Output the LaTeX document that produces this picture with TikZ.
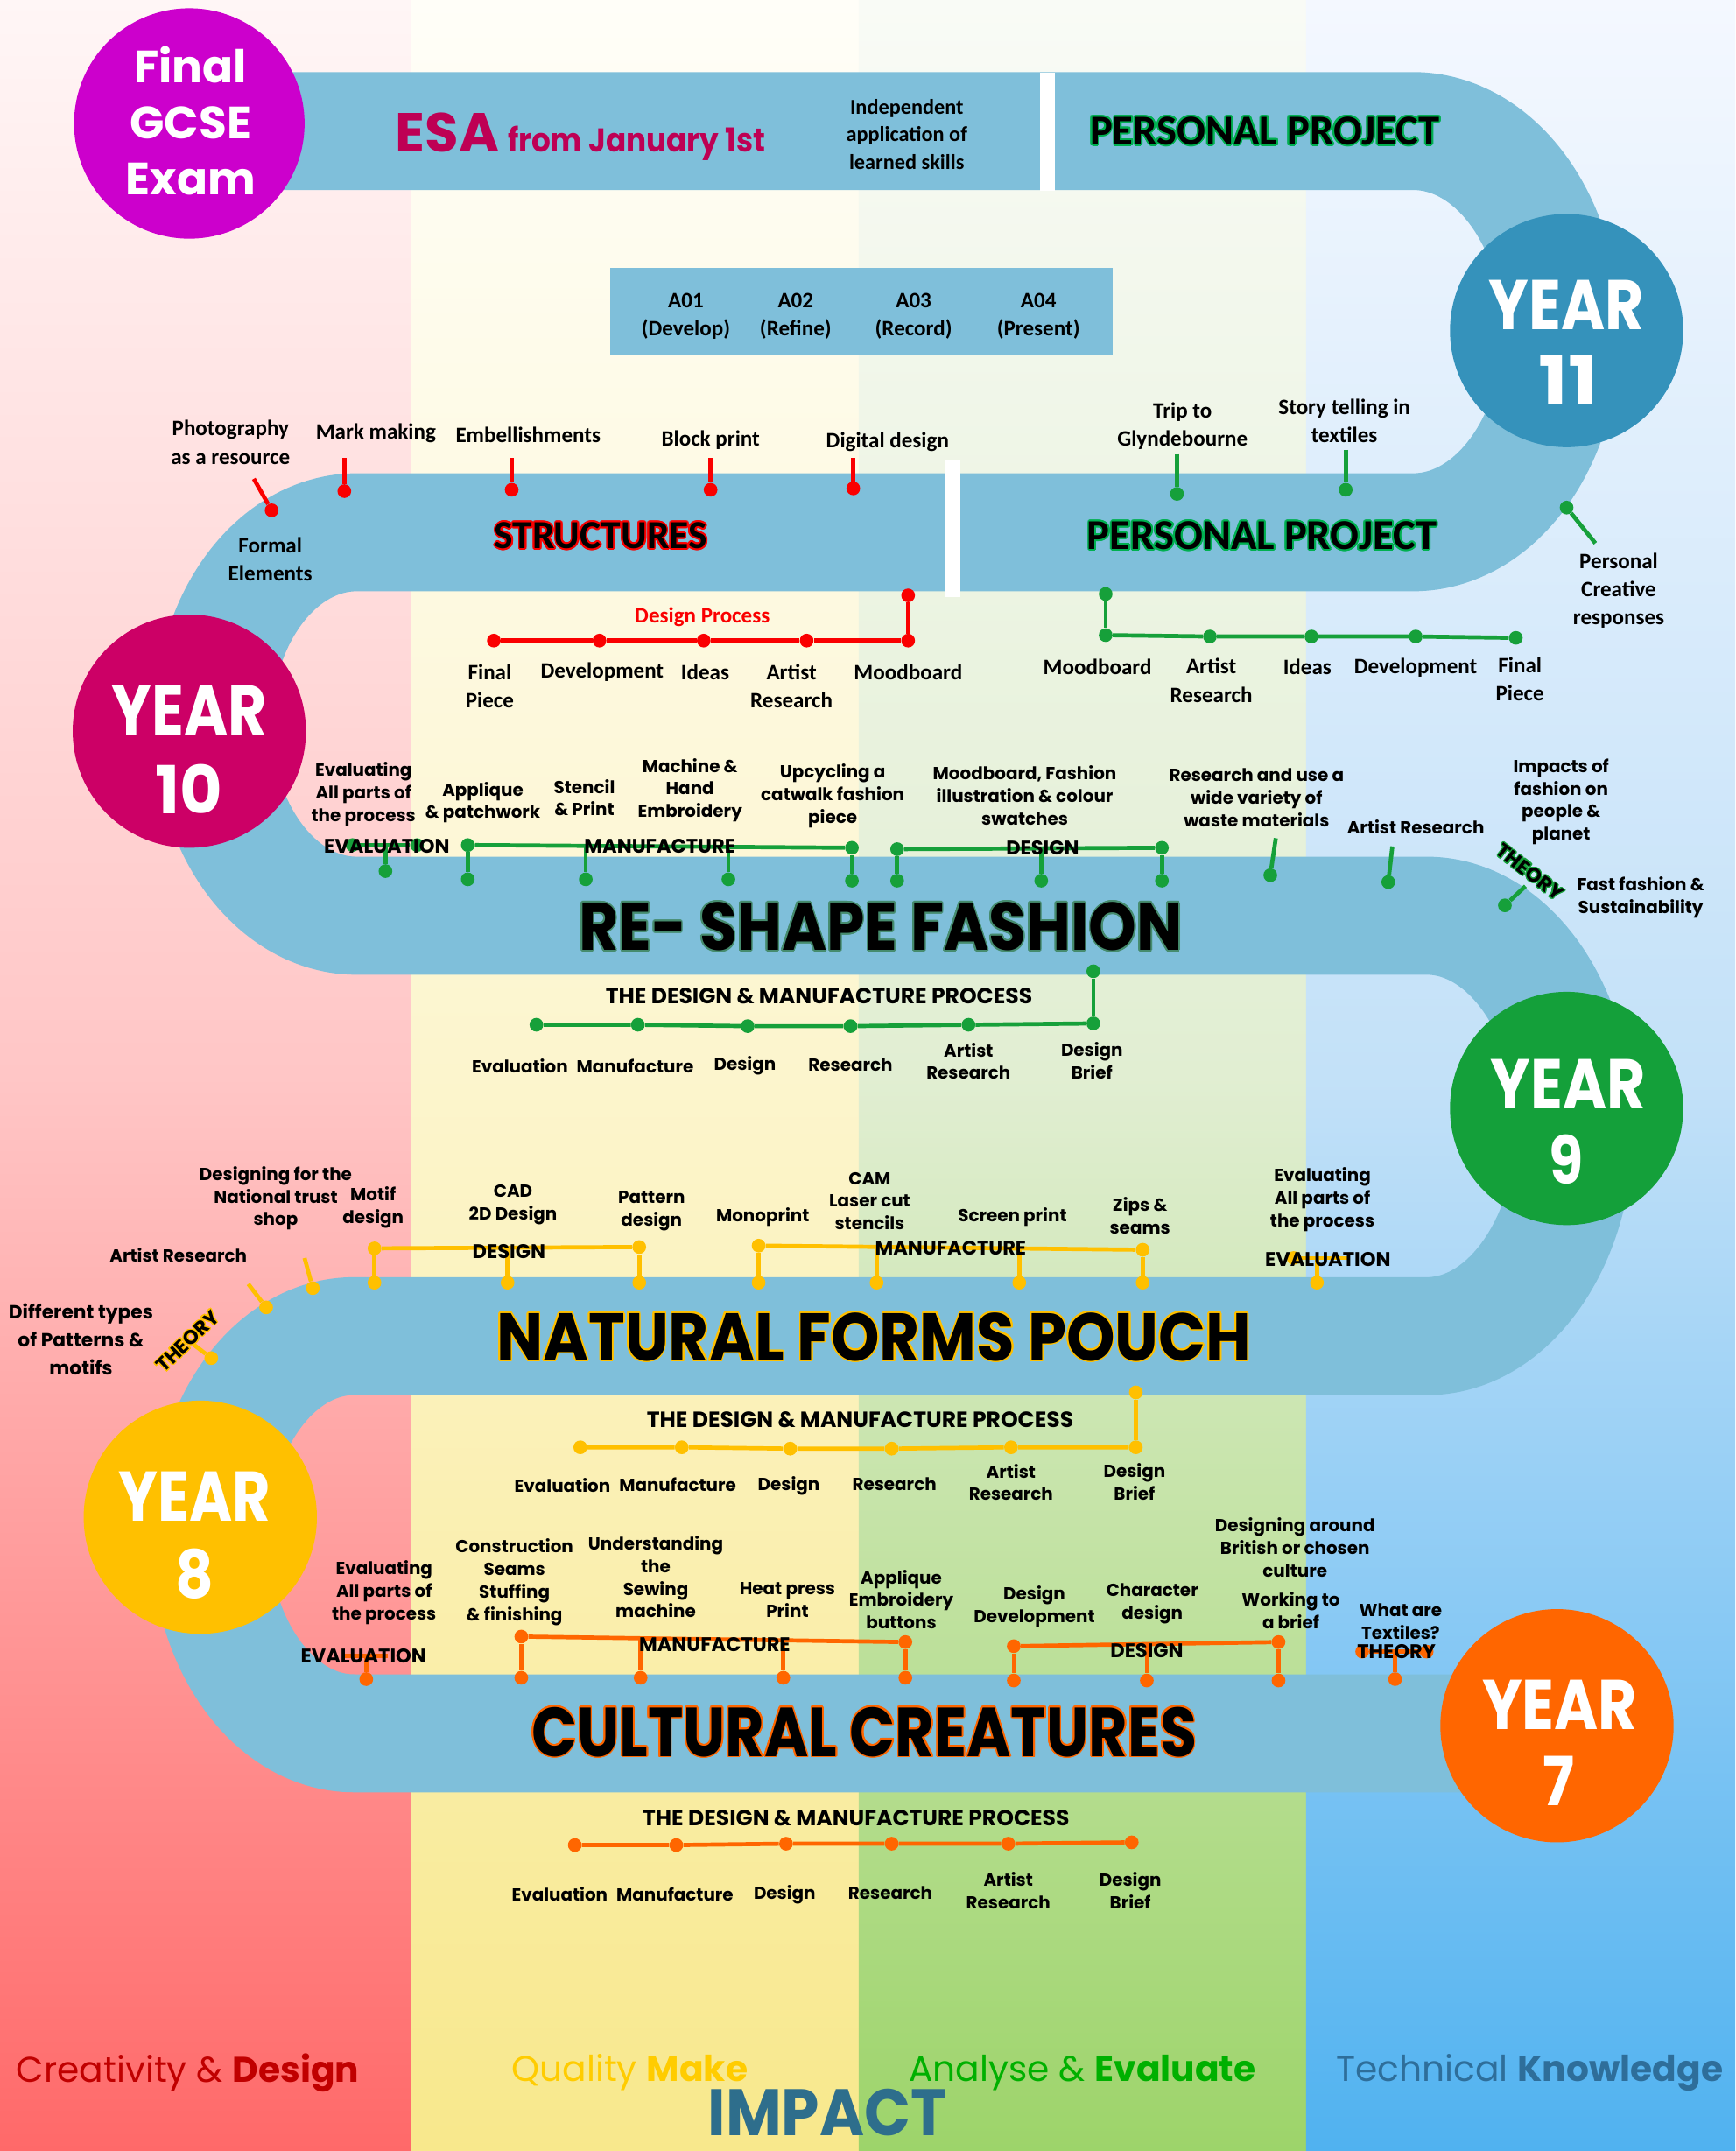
\documentclass[tikz,border=0pt]{standalone}
\usepackage{fontspec}
\setmainfont{Carlito}
\newfontfamily\cg{Poppins}
\usepackage[copies]{contour}
\usepackage{graphicx}
\definecolor{road}{RGB}{127,191,218}
\definecolor{bgRa}{RGB}{255,246,246}\definecolor{bgRm}{RGB}{255,198,198}\definecolor{bgRb}{RGB}{255,105,105}
\definecolor{bgYa}{RGB}{255,254,248}\definecolor{bgYm}{RGB}{252,245,205}\definecolor{bgYb}{RGB}{248,232,140}
\definecolor{bgGa}{RGB}{249,251,246}\definecolor{bgGm}{RGB}{225,238,210}\definecolor{bgGb}{RGB}{157,212,106}
\definecolor{bgBa}{RGB}{244,248,255}\definecolor{bgBm}{RGB}{195,225,248}\definecolor{bgBb}{RGB}{80,178,240}
\definecolor{cfinal}{RGB}{204,0,204}
\definecolor{cy11}{RGB}{53,146,187}
\definecolor{cy10}{RGB}{204,0,102}
\definecolor{cy9}{RGB}{20,160,58}
\definecolor{cy8}{RGB}{255,192,0}
\definecolor{cy7}{RGB}{255,102,0}
\definecolor{cesa}{RGB}{190,0,84}
\definecolor{cpp}{RGB}{0,176,80}
\definecolor{cr}{RGB}{250,0,0}
\definecolor{cg}{RGB}{22,160,58}
\definecolor{cyl}{RGB}{255,192,0}
\definecolor{cor}{RGB}{255,102,0}
\definecolor{cteal}{RGB}{70,140,110}
\definecolor{ccre}{RGB}{192,0,0}
\definecolor{cqual}{RGB}{255,204,0}
\definecolor{cana}{RGB}{0,176,0}
\definecolor{ctech}{RGB}{46,110,154}
\definecolor{cimp}{RGB}{46,110,140}
\begin{document}
\begin{tikzpicture}[x=1pt,y=-1pt,
  lblA/.style={font=\bfseries\fontsize{16}{20.5}\selectfont, align=center, inner sep=0pt},
  lblB/.style={font=\cg\bfseries\fontsize{12.7}{16.5}\selectfont, align=center, inner sep=0pt},
  lblC/.style={font=\cg\bfseries\fontsize{13.9}{20.5}\selectfont, align=center, inner sep=0pt},
  cat/.style={font=\cg\bfseries\fontsize{14.4}{16}\selectfont, inner sep=0pt},
  head/.style={font=\cg\bfseries\fontsize{16}{18}\selectfont, inner sep=0pt},
  yr/.style={circle, minimum size=170pt, inner sep=0pt},
  yrt/.style={text=white, font=\cg\bfseries\fontsize{50}{50}\selectfont, inner sep=0pt},
  bead/.style={circle, fill=#1, inner sep=0pt, minimum size=10pt},
  ln/.style={draw=#1, line width=3pt},
  btm/.style={inner sep=0pt, font=\cg\fontsize{26}{28}\selectfont},
]
\useasboundingbox (0,0) rectangle (1265,1568);
% background bands
\shade[top color=bgRa, bottom color=bgRb, middle color=bgRm] (0,0) rectangle (300,1568);
\shade[top color=bgYa, bottom color=bgYb, middle color=bgYm] (300,0) rectangle (626,1568);
\shade[top color=bgGa, bottom color=bgGb, middle color=bgGm] (626,0) rectangle (952,1568);
\shade[top color=bgBa, bottom color=bgBb, middle color=bgBm] (952,0) rectangle (1265,1568);
% road
\draw[road, line width=86pt] (200,95.5) -- (1030,95.5)
  arc[start angle=-90, end angle=90, x radius=108, y radius=146.25] -- (260,388)
  arc[start angle=-90, end angle=-270, x radius=105, y radius=139.75] -- (1040,667.5)
  arc[start angle=-90, end angle=90, x radius=108, y radius=153.25] -- (258,974)
  arc[start angle=-90, end angle=-270, x radius=105, y radius=144.75] -- (1100,1263.5);
\fill[white] (758,53) rectangle (769,139);
\fill[white] (689,335) rectangle (700,435);
% ===== top row =====
\node[yr, fill=cfinal, minimum size=168pt] (fin) at (138,90) {};
\node[text=white, font=\cg\bfseries\fontsize{33}{41}\selectfont, align=center, inner sep=0pt] (fint) at (139,88) {Final\\GCSE\\Exam};
\node[text=cesa, font=\cg\bfseries\fontsize{40}{40}\selectfont, inner sep=0pt, anchor=base west] (esa) at (288,111) {ESA};
\node[text=cesa, font=\cg\bfseries\fontsize{24}{24}\selectfont, inner sep=0pt, anchor=base west] (esb) at (370,111) {\scalebox{0.91}[1]{from January 1st}};
\node[lblA, font=\bfseries\fontsize{15.5}{20}\selectfont] (ind) at (661,98) {Independent\\application of\\learned skills};
\contourlength{1.2pt}
\node[font=\bfseries\fontsize{31}{31}\selectfont, inner sep=0pt] (pp1) at (922,96) {\contour{cpp}{PERSONAL PROJECT}};
\node[fill=road, minimum width=366pt, minimum height=64pt, inner sep=0pt] (abox) at (628,227) {};
\node[lblA] (a1) at (500,230.5) {A01\\(Develop)};
\node[lblA] (a2) at (580,230.5) {A02\\(Refine)};
\node[lblA] (a3) at (666,230.5) {A03\\(Record)};
\node[lblA] (a4) at (757,230.5) {A04\\(Present)};
% ===== Year 10 / 11 row =====
\node[lblA] (lph) at (168,322.5) {Photography\\as a resource};
\node[lblA] (lmm) at (274,316) {Mark making};
\node[lblA] (lem) at (385,317) {Embellishments};
\node[lblA] (lbp) at (518,321) {Block print};
\node[lblA] (ldd) at (647,322) {Digital design};
\node[lblA] (lfe) at (197,407.5) {Formal\\Elements};
\node[lblA] (ltr) at (862,310.5) {Trip to\\Glyndebourne};
\node[lblA] (lst) at (980,307) {Story telling in\\textiles};
\node[lblA] (lpc) at (1180,430.5) {Personal\\Creative\\responses};
\node[font=\bfseries\fontsize{29}{29}\selectfont, inner sep=0pt] (str) at (438,391) {\contour{cr}{STRUCTURES}};
\node[font=\bfseries\fontsize{31}{31}\selectfont, inner sep=0pt] (pp2) at (920,391) {\contour{cpp}{PERSONAL PROJECT}};
% red ticks
\coordinate (rt0) at (185,349); \node[bead=cr] (rd0) at (198,372) {};
\coordinate (rt1) at (251,334); \node[bead=cr] (rd1) at (251,358) {};
\coordinate (rt2) at (373,334); \node[bead=cr] (rd2) at (373,357) {};
\coordinate (rt3) at (518,334); \node[bead=cr] (rd3) at (518,357) {};
\coordinate (rt4) at (622,334); \node[bead=cr] (rd4) at (622,356) {};
\foreach \i in {0,...,4} {\draw[ln=cr] (rt\i) -- (rd\i);}
% green ticks
\coordinate (gt1) at (858,331); \node[bead=cg] (gd1) at (858,360) {};
\coordinate (gt2) at (981,328); \node[bead=cg] (gd2) at (981,357) {};
\coordinate (gt3) at (1163,396); \node[bead=cg] (gd3) at (1142,370) {};
\foreach \i in {1,2,3} {\draw[ln=cg] (gt\i) -- (gd\i);}
% design process red
\node[lblA, text=cr] (ldp) at (512,450) {Design Process};
\node[bead=cr] (dp1) at (360,467) {};
\node[bead=cr] (dp2) at (437,467) {};
\node[bead=cr] (dp3) at (513,467) {};
\node[bead=cr] (dp4) at (588,467) {};
\node[bead=cr] (dp5) at (662,467) {};
\node[bead=cr] (dp0) at (662,434) {};
\draw[ln=cr] (dp1) -- (dp2) -- (dp3) -- (dp4) -- (dp5);
\draw[ln=cr] (dp0) -- (dp5);
\node[lblA] (ldp1) at (357,500) {Final\\Piece};
\node[lblA] (ldp2) at (439,490) {Development};
\node[lblA] (ldp3) at (514,490) {Ideas};
\node[lblA] (ldp4) at (577,500) {Artist\\Research};
\node[lblA] (ldp5) at (662,490) {Moodboard};
% personal project green process
\node[bead=cg] (pp0) at (806,433) {};
\node[bead=cg] (pq1) at (806,463) {};
\node[bead=cg] (pq2) at (882,464) {};
\node[bead=cg] (pq3) at (956,464) {};
\node[bead=cg] (pq4) at (1032,464) {};
\node[bead=cg] (pq5) at (1105,465) {};
\draw[ln=cg] (pq1) -- (pq2) -- (pq3) -- (pq4) -- (pq5);
\draw[ln=cg] (pp0) -- (pq1);
\node[lblA] (lpq1) at (800,486) {Moodboard};
\node[lblA] (lpq2) at (883,496) {Artist\\Research};
\node[lblA] (lpq3) at (953,486) {Ideas};
\node[lblA] (lpq4) at (1032,487) {Development};
\node[lblA] (lpq5) at (1108,495) {Final\\Piece};
% ===== Year 9 row =====
\node[lblB] (n31) at (265,579) {Evaluating\\All parts of\\the process};
\node[lblB] (n32) at (352,585) {Applique\\\& patchwork};
\node[lblB] (n33) at (426,581.5) {Stencil\\\& Print};
\node[lblB] (n34) at (503,576) {Machine \&\\Hand\\Embroidery};
\node[lblB] (n35) at (607,580) {Upcycling a\\catwalk fashion\\piece};
\node[lblB] (n36) at (747,580) {Moodboard, Fashion\\illustration \& colour\\swatches};
\node[lblB] (n37) at (916,581.5) {Research and use a\\wide variety of\\waste materials};
\node[lblB] (n38) at (1032,603) {Artist Research};
\node[lblB] (n39) at (1138,584.5) {Impacts of\\fashion on\\people \&\\planet};
\node[lblB] (n310) at (1196,654) {Fast fashion \&\\Sustainability};
% brackets row 3
\node[bead=cg] (e3a) at (257,616) {};
\node[bead=cg] (e3b) at (304,616) {};
\coordinate (e3t) at (281,616); \node[bead=cg] (e3d) at (281,635) {};
\draw[ln=cg] (e3a) -- (e3b); \draw[ln=cg] (e3t) -- (e3d);
\node[bead=cg] (m3a) at (341,616) {};
\node[bead=cg] (m3b) at (621,618) {};
\coordinate (m3t2) at (427,616.6); \coordinate (m3t3) at (531,617.3);
\node[bead=cg] (m3d1) at (341,641) {};
\node[bead=cg] (m3d2) at (427,641) {};
\node[bead=cg] (m3d3) at (531,641) {};
\node[bead=cg] (m3d4) at (621,642) {};
\draw[ln=cg] (m3a) -- (m3b);
\draw[ln=cg] (m3a) -- (m3d1); \draw[ln=cg] (m3t2) -- (m3d2); \draw[ln=cg] (m3t3) -- (m3d3); \draw[ln=cg] (m3b) -- (m3d4);
\node[bead=cg] (d3a) at (654,619) {};
\node[bead=cg] (d3b) at (847,618) {};
\coordinate (d3t) at (759,618.5);
\node[bead=cg] (d3d1) at (654,642) {};
\node[bead=cg] (d3d2) at (759,642) {};
\node[bead=cg] (d3d3) at (847,642) {};
\draw[ln=cg] (d3a) -- (d3b);
\draw[ln=cg] (d3a) -- (d3d1); \draw[ln=cg] (d3t) -- (d3d2); \draw[ln=cg] (d3b) -- (d3d3);
\coordinate (r3t) at (930,611); \node[bead=cg] (r3d) at (926,638) {};
\coordinate (ar3t) at (1015,617); \node[bead=cg] (ar3d) at (1012,643) {};
\coordinate (th3t) at (1112,646); \node[bead=cg] (th3d) at (1097,660) {};
\draw[ln=cg] (r3t) -- (r3d); \draw[ln=cg] (ar3t) -- (ar3d); \draw[ln=cg] (th3t) -- (th3d);
\node[cat] (c31) at (282,617) {EVALUATION};
\node[cat] (c32) at (481,617) {MANUFACTURE};
\node[cat] (c33) at (760,618) {DESIGN};
\contourlength{0.8pt}
\node[cat, rotate=-38] (c34) at (1115,636) {\contour{cg}{THEORY}};
\contourlength{1.2pt}
\node[inner sep=0pt] (t3) at (642,676) {\resizebox{440pt}{35pt}{\cg\bfseries\fontsize{50}{50}\selectfont\contour{cteal}{RE- SHAPE FASHION}}};
\node[head] (h3) at (597,726) {THE DESIGN \& MANUFACTURE PROCESS};
\node[bead=cg] (p31) at (391,747) {};
\node[bead=cg] (p32) at (465,747) {};
\node[bead=cg] (p33) at (545,748) {};
\node[bead=cg] (p34) at (620,748) {};
\node[bead=cg] (p35) at (706,747) {};
\node[bead=cg] (p36) at (797,746) {};
\node[bead=cg] (p30) at (797,708) {};
\draw[ln=cg] (p31) -- (p32) -- (p33) -- (p34) -- (p35) -- (p36);
\draw[ln=cg] (p30) -- (p36);
\node[lblB] (q31) at (379,777) {Evaluation};
\node[lblB] (q32) at (463,777) {Manufacture};
\node[lblB] (q33) at (543,777) {Design};
\node[lblB] (q34) at (620,776) {Research};
\node[lblB] (q35) at (706,773.5) {Artist\\Research};
\node[lblB] (q36) at (796,773) {Design\\Brief};
% ===== Year 8 row =====
\node[lblB] (n41) at (201,873.5) {Designing for the\\National trust\\shop};
\node[lblB] (n42) at (272,880) {Motif\\design};
\node[lblB] (n43) at (130,915) {Artist Research};
\node[lblC] (n44) at (59,976.5) {Different types\\of Patterns \&\\motifs};
\node[lblB] (n45) at (374,878) {CAD\\2D Design};
\node[lblB] (n46) at (475,883) {Pattern\\design};
\node[lblB] (n47) at (556,887) {Monoprint};
\node[lblB] (n48) at (634,875.5) {CAM\\Laser cut\\stencils};
\node[lblB] (n49) at (738,887) {Screen print};
\node[lblB] (n410) at (831,886) {Zips \&\\seams};
\node[lblB] (n411) at (964,874.5) {Evaluating\\All parts of\\the process};
\node[bead=cyl] (d4a) at (273,910) {};
\node[bead=cyl] (d4b) at (466,909) {};
\coordinate (d4t) at (370,909.5);
\node[bead=cyl] (d4d1) at (273,935) {};
\node[bead=cyl] (d4d2) at (370,935) {};
\node[bead=cyl] (d4d3) at (466,935) {};
\draw[ln=cyl] (d4a) -- (d4b);
\draw[ln=cyl] (d4a) -- (d4d1); \draw[ln=cyl] (d4t) -- (d4d2); \draw[ln=cyl] (d4b) -- (d4d3);
\node[bead=cyl] (m4a) at (553,908) {};
\node[bead=cyl] (m4b) at (833,911) {};
\coordinate (m4t2) at (639,909); \coordinate (m4t3) at (743,910);
\node[bead=cyl] (m4d1) at (553,935) {};
\node[bead=cyl] (m4d2) at (639,935) {};
\node[bead=cyl] (m4d3) at (743,935) {};
\node[bead=cyl] (m4d4) at (833,935) {};
\draw[ln=cyl] (m4a) -- (m4b);
\draw[ln=cyl] (m4a) -- (m4d1); \draw[ln=cyl] (m4t2) -- (m4d2); \draw[ln=cyl] (m4t3) -- (m4d3); \draw[ln=cyl] (m4b) -- (m4d4);
\node[bead=cyl] (e4a) at (943,917) {};
\coordinate (e4b) at (982,917); \coordinate (e4t) at (960,917);
\node[bead=cyl] (e4d) at (960,935) {};
\draw[ln=cyl] (e4a) -- (e4b); \draw[ln=cyl] (e4t) -- (e4d);
\coordinate (nt4t) at (222,917); \node[bead=cyl] (nt4d) at (228,939) {};
\coordinate (ar4t) at (181,936); \node[bead=cyl] (ar4d) at (194,953) {};
\coordinate (th4t) at (141,980); \node[bead=cyl] (th4d) at (154,990) {};
\draw[ln=cyl] (nt4t) -- (nt4d); \draw[ln=cyl] (ar4t) -- (ar4d); \draw[ln=cyl] (th4t) -- (th4d);
\node[cat] (c41) at (371,912) {DESIGN};
\node[cat] (c42) at (693,910) {MANUFACTURE};
\node[cat] (c43) at (968,918) {EVALUATION};
\contourlength{0.8pt}
\node[cat, rotate=44] (c44) at (137,978) {\contour{cyl}{THEORY}};
\contourlength{1.2pt}
\node[inner sep=0pt] (t4) at (637,975) {\resizebox{550pt}{35pt}{\cg\bfseries\fontsize{50}{50}\selectfont\contour{cyl}{NATURAL FORMS POUCH}}};
\node[head] (h4) at (627,1035) {THE DESIGN \& MANUFACTURE PROCESS};
\node[bead=cyl] (p41) at (423,1055) {};
\node[bead=cyl] (p42) at (497,1055) {};
\node[bead=cyl] (p43) at (576,1056) {};
\node[bead=cyl] (p44) at (650,1056) {};
\node[bead=cyl] (p45) at (737,1055) {};
\node[bead=cyl] (p46) at (828,1055) {};
\node[bead=cyl] (p40) at (828,1015) {};
\draw[ln=cyl] (p41) -- (p42) -- (p43) -- (p44) -- (p45) -- (p46);
\draw[ln=cyl] (p40) -- (p46);
\node[lblB] (q41) at (410,1083) {Evaluation};
\node[lblB] (q42) at (494,1082) {Manufacture};
\node[lblB] (q43) at (575,1083) {Design};
\node[lblB] (q44) at (652,1082) {Research};
\node[lblB] (q45) at (737,1080.5) {Artist\\Research};
\node[lblB] (q46) at (827,1080) {Design\\Brief};
% ===== Year 7 row =====
\node[lblB] (n51) at (280,1161) {Evaluating\\All parts of\\the process};
\node[lblB] (n52) at (375,1153.5) {Construction\\Seams\\Stuffing\\\& finishing};
\node[lblB] (n53) at (478,1149.5) {Understanding\\the\\Sewing\\machine};
\node[lblB] (n54) at (574,1166) {Heat press\\Print};
\node[lblB] (n55) at (657,1166) {Applique\\Embroidery\\buttons};
\node[lblB] (n56) at (754,1171) {Design\\Development};
\node[lblB] (n57) at (840,1169) {Character\\design};
\node[lblB] (n58) at (944,1128) {Designing around\\British or chosen\\culture};
\node[lblB] (n59) at (941,1174) {Working to\\a brief};
\node[lblB] (n510) at (1021,1182) {What are\\Textiles?};
\coordinate (e5a) at (250,1207); \coordinate (e5b) at (283,1207); \coordinate (e5t) at (267,1207);
\node[bead=cor] (e5d) at (267,1224) {};
\draw[ln=cor] (e5a) -- (e5b); \draw[ln=cor] (e5t) -- (e5d);
\node[bead=cor] (m5a) at (380,1193) {};
\node[bead=cor] (m5b) at (660,1197) {};
\coordinate (m5t2) at (467,1194.2); \coordinate (m5t3) at (571,1195.7);
\node[bead=cor] (m5d1) at (380,1223) {};
\node[bead=cor] (m5d2) at (467,1223) {};
\node[bead=cor] (m5d3) at (571,1223) {};
\node[bead=cor] (m5d4) at (660,1223) {};
\draw[ln=cor] (m5a) -- (m5b);
\draw[ln=cor] (m5a) -- (m5d1); \draw[ln=cor] (m5t2) -- (m5d2); \draw[ln=cor] (m5t3) -- (m5d3); \draw[ln=cor] (m5b) -- (m5d4);
\node[bead=cor] (d5a) at (739,1200) {};
\node[bead=cor] (d5b) at (932,1197) {};
\coordinate (d5t) at (836,1198.5);
\node[bead=cor] (d5d1) at (739,1225) {};
\node[bead=cor] (d5d2) at (836,1225) {};
\node[bead=cor] (d5d3) at (932,1225) {};
\draw[ln=cor] (d5a) -- (d5b);
\draw[ln=cor] (d5a) -- (d5d1); \draw[ln=cor] (d5t) -- (d5d2); \draw[ln=cor] (d5b) -- (d5d3);
\node[bead=cor] (th5a) at (993,1204) {};
\node[bead=cor] (th5b) at (1040,1204) {};
\coordinate (th5t) at (1017,1204);
\node[bead=cor] (th5d) at (1017,1224) {};
\draw[ln=cor] (th5a) -- (th5b); \draw[ln=cor] (th5t) -- (th5d);
\node[cat] (c51) at (265,1207) {EVALUATION};
\node[cat] (c52) at (521,1199) {MANUFACTURE};
\node[cat] (c53) at (836,1203) {DESIGN};
\node[cat] (c54) at (1018,1204) {THEORY};
\node[inner sep=0pt] (t5) at (630,1263) {\resizebox{485pt}{36pt}{\cg\bfseries\fontsize{50}{50}\selectfont\contour{cor}{CULTURAL CREATURES}}};
\node[head] (h5) at (624,1325) {THE DESIGN \& MANUFACTURE PROCESS};
\node[bead=cor] (p51) at (419,1345) {};
\node[bead=cor] (p52) at (493,1345) {};
\node[bead=cor] (p53) at (573,1344) {};
\node[bead=cor] (p54) at (650,1344) {};
\node[bead=cor] (p55) at (735,1344) {};
\node[bead=cor] (p56) at (825,1343) {};
\draw[ln=cor] (p51) -- (p52) -- (p53) -- (p54) -- (p55) -- (p56);
\node[lblB] (q51) at (408,1381) {Evaluation};
\node[lblB] (q52) at (492,1381) {Manufacture};
\node[lblB] (q53) at (572,1381) {Design};
\node[lblB] (q54) at (649,1380) {Research};
\node[lblB] (q55) at (735,1378) {Artist\\Research};
\node[lblB] (q56) at (824,1378) {Design\\Brief};
% ===== year circles =====
\node[yr, fill=cy11] (y11) at (1142,241) {};
\node[yrt] (y11a) at (1142,222) {\resizebox{113pt}{36pt}{YEAR}};
\node[yrt] (y11b) at (1143,277) {\resizebox{43pt}{36pt}{11}};
\node[yr, fill=cy10] (y10) at (138,533) {};
\node[yrt] (y10a) at (138,518) {\resizebox{113pt}{36pt}{YEAR}};
\node[yrt] (y10b) at (138,575) {\resizebox{49pt}{36pt}{10}};
\node[yr, fill=cy9] (y9) at (1142,808) {};
\node[yrt] (y9a) at (1143,790) {\resizebox{113pt}{36pt}{YEAR}};
\node[yrt] (y9b) at (1142,845) {\resizebox{25pt}{36pt}{9}};
\node[yr, fill=cy8] (y8) at (146,1106) {};
\node[yrt] (y8a) at (142,1091) {\resizebox{111pt}{36pt}{YEAR}};
\node[yrt] (y8b) at (142,1147) {\resizebox{28pt}{36pt}{8}};
\node[yr, fill=cy7] (y7) at (1135,1258) {};
\node[yrt] (y7a) at (1137,1243) {\resizebox{113pt}{36pt}{YEAR}};
\node[yrt] (y7b) at (1136,1298) {\resizebox{23pt}{36pt}{7}};
% ===== bottom =====
\node[btm, text=ccre] (b1) at (137,1511) {Creativity \& \textbf{Design}};
\node[btm, text=cqual] (b2) at (459,1511) {Quality \textbf{Make}};
\node[btm, text=cana] (b3) at (789,1511) {Analyse \& \textbf{Evaluate}};
\node[btm, text=ctech] (b4) at (1115,1511) {Technical \textbf{Knowledge}};
\node[inner sep=0pt, text=cimp] (imp) at (603,1540) {\resizebox{174pt}{34pt}{\cg\bfseries IMPACT}};
\end{tikzpicture}
\end{document}
